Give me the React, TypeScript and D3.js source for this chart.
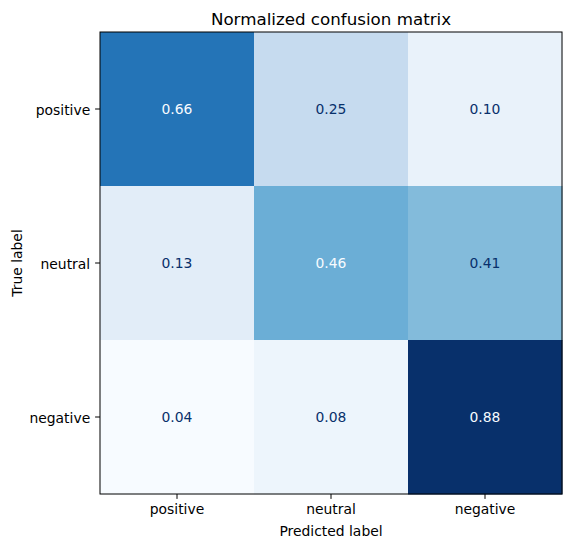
import React, { useEffect, useRef } from 'react';
import * as d3 from 'd3';

const labels = ['positive', 'neutral', 'negative'];
const row0 = [0.66, 0.25, 0.10];
const row1 = [0.13, 0.46, 0.41];
const row2 = [0.04, 0.08, 0.88];
const matrix = [row0, row1, row2];

const W = 572;
const H = 547;
const margin = { left: 100, top: 32, size: 462 };
const FONT = 'DejaVu Sans, sans-serif';

const App: React.FC = () => {
    const ref = useRef<SVGSVGElement>(null);

    useEffect(() => {
        const svg = d3.select(ref.current);
        svg.selectAll('*').remove();

        const flat = matrix.flat();
        const vmin = d3.min(flat) as number;
        const vmax = d3.max(flat) as number;
        const blues = d3.piecewise(d3.interpolateRgb, d3.schemeBlues[9] as string[]);
        const color = (v: number) => blues((v - vmin) / (vmax - vmin));
        const thresh = (vmin + vmax) / 2;

        const x = d3.scaleBand<string>().domain(labels).range([margin.left, margin.left + margin.size]);
        const y = d3.scaleBand<string>().domain(labels).range([margin.top, margin.top + margin.size]);

        const cells = matrix.flatMap((row, i) => row.map((v, j) => ({ v, t: labels[i], p: labels[j] })));

        svg.append('g').selectAll('rect')
            .data(cells)
            .enter()
            .append('rect')
            .attr('x', d => x(d.p)!)
            .attr('y', d => y(d.t)!)
            .attr('width', x.bandwidth() + 0.5)
            .attr('height', y.bandwidth() + 0.5)
            .attr('fill', d => color(d.v));

        // valori nelle celle, centrati sulle cifre
        svg.append('g').selectAll('text')
            .data(cells)
            .enter()
            .append('text')
            .attr('x', d => x(d.p)! + x.bandwidth() / 2)
            .attr('y', d => y(d.t)! + y.bandwidth() / 2)
            .attr('dy', '0.36em')
            .attr('text-anchor', 'middle')
            .style('font-family', FONT)
            .style('font-size', '13.9px')
            .attr('fill', d => (d.v < thresh - 1e-9 ? blues(1) : blues(0)))
            .text(d => d.v.toFixed(2));

        // cornice
        svg.append('rect')
            .attr('x', margin.left)
            .attr('y', margin.top)
            .attr('width', margin.size)
            .attr('height', margin.size)
            .attr('fill', 'none')
            .attr('stroke', '#000')
            .attr('stroke-width', 1);

        const xAxis = svg.append('g')
            .attr('transform', `translate(0,${margin.top + margin.size})`)
            .call(d3.axisBottom(x).tickSize(4.9).tickPadding(4.9));
        const yAxis = svg.append('g')
            .attr('transform', `translate(${margin.left},0)`)
            .call(d3.axisLeft(y).tickSize(4.9).tickPadding(4.9));
        [xAxis, yAxis].forEach(a => {
            a.select('.domain').remove();
            a.selectAll('line').attr('stroke', '#000').attr('stroke-width', 1);
            a.selectAll('text')
                .attr('fill', '#000')
                .style('font-family', FONT)
                .style('font-size', '13.9px');
        });
        yAxis.selectAll('text').attr('dy', '0.46em');

        svg.append('text')
            .attr('x', margin.left + margin.size / 2)
            .attr('y', 536)
            .attr('text-anchor', 'middle')
            .style('font-family', FONT)
            .style('font-size', '13.9px')
            .text('Predicted label');

        svg.append('text')
            .attr('transform', `translate(22,${margin.top + margin.size / 2}) rotate(-90)`)
            .attr('text-anchor', 'middle')
            .style('font-family', FONT)
            .style('font-size', '13.9px')
            .text('True label');

        svg.append('text')
            .attr('x', margin.left + margin.size / 2)
            .attr('y', 25)
            .attr('text-anchor', 'middle')
            .style('font-family', FONT)
            .style('font-size', '16.7px')
            .text('Normalized confusion matrix');
    }, []);

    return (
        <svg
            ref={ref}
            width={W}
            height={H}
            style={{ display: 'block', position: 'absolute', left: 0, top: 0, background: '#fff' }}
        />
    );
};

export default App;
